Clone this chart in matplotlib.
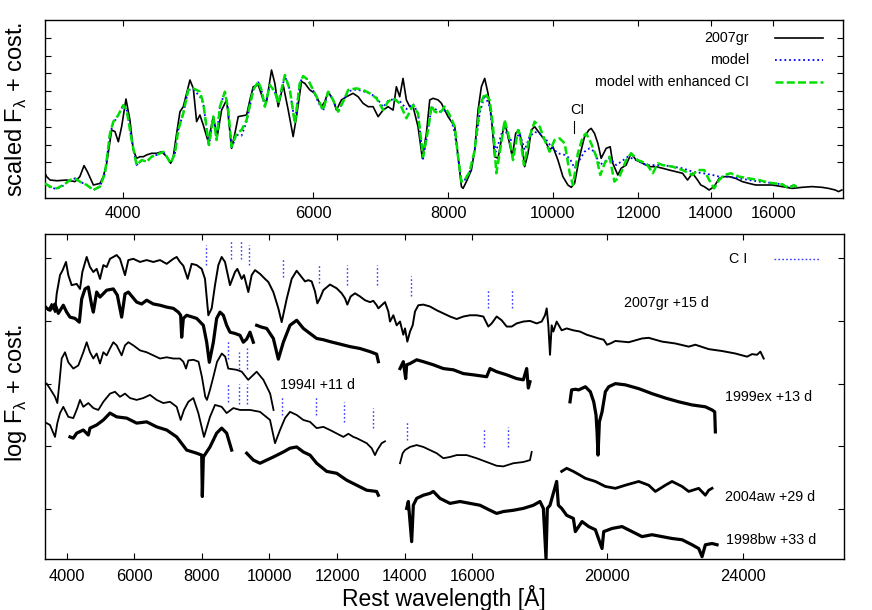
import numpy as np
import matplotlib
matplotlib.use("Agg")
import matplotlib.pyplot as plt
from matplotlib.ticker import NullLocator

plt.rcParams['font.family'] = ['Liberation Sans', 'DejaVu Sans']
plt.rcParams['mathtext.fontset'] = 'custom'
plt.rcParams['mathtext.rm'] = 'Liberation Sans'

nan = float('nan')

# ---------------- top panel data (scaled flux, arbitrary units) ----------------
obs_wl = [3385, 3397, 3422, 3472, 3545, 3608, 3646, 3679, 3705, 3753,
          3806, 3833, 3861, 3902, 3930, 3958, 3986, 4023, 4057, 4086,
          4115, 4145, 4175, 4204, 4249, 4295, 4341, 4388, 4425, 4450,
          4482, 4514, 4546, 4578, 4611, 4644, 4677, 4710, 4744, 4794,
          4846, 4887, 4933, 4986, 5039, 5075, 5111, 5147, 5203, 5240,
          5277, 5334, 5391, 5429, 5487, 5526, 5566, 5625, 5686, 5746,
          5787, 5849, 5891, 5954, 6018, 6060, 6104, 6147, 6191, 6257,
          6302, 6369, 6437, 6529, 6600, 6670, 6742, 6814, 6887, 6961,
          7035, 7111, 7161, 7212, 7263, 7315, 7367, 7420, 7499, 7569,
          7634, 7689, 7744, 7827, 7883, 7939, 7995, 8052, 8110, 8167,
          8226, 8255, 8314, 8403, 8463, 8523, 8584, 8645, 8706, 8768,
          8831, 8894, 8957, 9021, 9085, 9169, 9235, 9294, 9347, 9414,
          9481, 9548, 9616, 9719, 9823, 9928, 9999, 10106, 10214, 10323,
          10397, 10471, 10583, 10696, 10795, 10849, 10926, 11004, 11082, 11201,
          11297, 11361, 11482, 11564, 11688, 11813, 11939, 12109, 12282, 12457,
          12634, 12814, 12997, 13182, 13323, 13466, 13610, 13706, 13804, 13952,
          14101, 14252, 14404, 14558, 14765, 14976, 15189, 15406, 15625, 15960,
          16302, 16652, 17009, 17373, 17745, 17998, 18255, 18385, 18515]
obs_flux = [1.39, 1.20, 1.01, 0.97, 1.01, 0.92, 1.20, 1.82, 1.48, 0.73,
            0.82, 1.20, 1.95, 3.82, 3.73, 3.16, 4.01, 5.56, 4.38, 2.70,
            2.23, 2.32, 2.32, 2.42, 2.51, 2.51, 2.60, 2.32, 1.95, 2.32,
            3.63, 4.85, 5.13, 5.88, 6.63, 6.16, 4.29, 4.66, 4.10, 3.16,
            4.57, 3.45, 4.94, 5.51, 2.79, 3.63, 4.57, 4.61, 4.66, 5.51,
            6.25, 6.35, 5.51, 5.41, 7.19, 6.44, 5.13, 6.35, 4.94, 3.45,
            4.57, 6.54, 6.44, 6.07, 5.88, 5.51, 5.13, 5.41, 5.97, 5.51,
            4.94, 5.51, 5.69, 5.88, 5.69, 5.32, 5.13, 5.13, 4.57, 4.94,
            5.13, 4.94, 6.25, 5.69, 6.72, 5.51, 5.13, 5.13, 4.01, 2.23,
            3.63, 5.51, 5.60, 5.51, 5.32, 4.94, 4.57, 4.29, 4.01, 2.32,
            0.64, 0.54, 0.92, 1.57, 2.70, 4.94, 6.25, 6.72, 5.88, 4.57,
            2.32, 2.23, 3.26, 4.29, 3.45, 2.32, 3.63, 3.82, 3.26, 1.76,
            2.51, 3.82, 4.01, 3.63, 3.26, 2.70, 2.88, 2.13, 1.20, 0.73,
            0.60, 0.82, 2.32, 3.45, 3.82, 3.91, 3.63, 3.07, 2.23, 2.79,
            2.88, 1.95, 1.29, 1.67, 1.85, 2.51, 2.13, 1.95, 1.76, 1.76,
            1.67, 1.57, 1.48, 1.39, 1.01, 1.39, 1.01, 0.73, 0.64, 0.45,
            0.64, 1.10, 1.20, 1.20, 1.10, 0.92, 0.82, 0.73, 0.73, 0.73,
            0.64, 0.54, 0.60, 0.64, 0.60, 0.54, 0.45, 0.36, 0.45]

ci_wl = [3385, 3422, 3471, 3520, 3571, 3608, 3646, 3700, 3753, 3806,
         3847, 3888, 3916, 3958, 4000, 4029, 4072, 4115, 4160, 4204,
         4249, 4295, 4356, 4388, 4425, 4466, 4497, 4546, 4594, 4644,
         4710, 4744, 4801, 4846, 4880, 4915, 4968, 5003, 5039, 5093,
         5147, 5203, 5277, 5334, 5371, 5410, 5468, 5526, 5566, 5646,
         5706, 5767, 5828, 5870, 5933, 5996, 6060, 6126, 6191, 6257,
         6325, 6392, 6461, 6576, 6670, 6766, 6863, 6961, 7035, 7111,
         7212, 7316, 7420, 7499, 7580, 7661, 7720, 7771, 7855, 7939,
         8024, 8110, 8167, 8226, 8284, 8373, 8463, 8553, 8645, 8737,
         8800, 8862, 8925, 9021, 9118, 9183, 9281, 9314, 9400, 9514,
         9616, 9719, 9823, 9928, 10034, 10142, 10252, 10363, 10436, 10545,
         10657, 10733, 10849, 10968, 11061, 11165, 11281, 11399, 11523, 11688,
         11813, 11980, 12197, 12373, 12507, 12634, 12906, 13182, 13466, 13610,
         13804, 13952, 14101, 14252, 14404, 14609, 14871, 15189, 15515, 15848,
         16302, 16534, 16711, 16889]
ci_flux = [0.82, 0.64, 0.54, 0.73, 1.01, 1.10, 0.92, 0.73, 0.45, 0.64,
           1.39, 3.63, 4.29, 4.66, 5.22, 4.94, 3.26, 1.85, 2.13, 2.04,
           2.32, 2.42, 2.60, 2.32, 1.95, 2.51, 3.82, 4.76, 6.07, 6.16,
           5.97, 5.32, 2.98, 4.57, 3.26, 5.13, 5.97, 4.94, 2.88, 3.63,
           3.82, 4.38, 6.07, 6.54, 6.07, 5.13, 6.35, 5.97, 5.32, 6.91,
           6.07, 4.19, 6.44, 6.85, 6.63, 6.07, 5.51, 4.94, 5.97, 5.51,
           4.85, 5.41, 6.07, 6.16, 6.07, 5.88, 5.60, 4.94, 5.41, 5.60,
           5.32, 4.48, 5.22, 4.76, 2.32, 3.82, 5.20, 4.85, 4.76, 5.13,
           4.66, 4.01, 2.32, 0.92, 1.01, 1.48, 2.70, 5.13, 5.88, 5.51,
           4.01, 1.39, 2.51, 4.38, 3.26, 2.13, 3.82, 3.63, 1.85, 3.45,
           4.29, 4.01, 3.26, 2.60, 3.26, 3.35, 3.07, 1.39, 0.73, 2.51,
           3.45, 3.63, 3.07, 2.32, 1.29, 1.95, 2.32, 0.92, 1.20, 2.13,
           2.51, 2.13, 1.95, 1.39, 1.95, 1.85, 1.76, 1.57, 1.29, 1.57,
           1.57, 1.01, 0.54, 1.01, 1.29, 1.39, 1.20, 1.10, 1.01, 0.86,
           0.77, 0.54, 0.73, 0.54]

model_wl = [3385, 3422, 3471, 3520, 3571, 3608, 3646, 3700, 3753, 3806,
            3847, 3888, 3916, 3958, 4000, 4029, 4072, 4115, 4160, 4204,
            4249, 4295, 4356, 4388, 4425, 4466, 4497, 4546, 4594, 4644,
            4710, 4744, 4801, 4846, 4880, 4915, 4968, 5003, 5039, 5093,
            5147, 5203, 5277, 5334, 5371, 5410, 5468, 5526, 5566, 5646,
            5706, 5767, 5828, 5870, 5933, 5996, 6060, 6126, 6191, 6257,
            6325, 6392, 6461, 6576, 6670, 6766, 6863, 6961, 7035, 7111,
            7212, 7316, 7420, 7499, 7580, 7661, 7720, 7855, 7967, 8052,
            8110, 8167, 8226, 8284, 8373, 8463, 8553, 8645, 8737, 8800,
            8850, 8925, 9002, 9118, 9216, 9314, 9414, 9514, 9616, 9719,
            9859, 9964, 10106, 10252, 10363, 10471, 10583, 10696, 10812, 10926,
            11045, 11165, 11281, 11444, 11564, 11732, 11939, 12197, 12507, 12634,
            12906, 13182, 13466, 13765, 14061, 14252, 14558, 14871, 15189, 15515,
            15848, 16302, 16534, 16711, 16889]
model_flux = [0.78, 0.60, 0.50, 0.70, 1.01, 1.10, 0.92, 0.73, 0.45, 0.64,
              1.39, 3.63, 4.20, 4.66, 5.22, 4.94, 3.26, 1.85, 2.13, 2.04,
              2.32, 2.42, 2.60, 2.32, 1.95, 2.51, 3.82, 4.76, 6.07, 6.10,
              5.70, 5.32, 2.90, 4.57, 3.26, 5.13, 5.97, 4.94, 2.80, 3.55,
              3.50, 4.30, 6.07, 6.50, 6.07, 5.13, 6.35, 5.97, 5.32, 6.85,
              6.07, 4.19, 6.44, 6.85, 6.63, 6.07, 5.40, 4.90, 5.97, 5.51,
              4.85, 5.41, 6.00, 6.10, 6.00, 5.88, 5.65, 5.10, 5.45, 5.55,
              5.45, 5.00, 5.30, 4.76, 2.20, 3.82, 5.10, 4.85, 4.94, 4.38,
              3.63, 2.32, 0.92, 1.01, 1.48, 2.70, 4.76, 5.79, 5.13, 3.63,
              2.60, 3.26, 4.01, 3.26, 3.26, 3.63, 2.70, 3.45, 3.71, 3.63,
              3.26, 2.88, 2.51, 2.42, 2.23, 1.67, 2.13, 2.60, 2.79, 2.60,
              1.85, 2.04, 2.23, 1.85, 2.04, 2.32, 2.13, 1.85, 1.85, 1.85,
              1.76, 1.67, 1.48, 1.39, 1.29, 1.20, 1.20, 1.10, 1.01, 0.92,
              0.86, 0.77, 0.60, 0.73, 0.54]

# ---------------- bottom panel data (log flux + const) ----------------
gr07_wl = [3358, 3457, 3555, 3654, 3703, 3802, 3881, 3979, 4048, 4147,
           4295, 4394, 4463, 4591, 4689, 4788, 4887, 4985, 5084, 5183,
           5281, 5478, 5577, 5725, 5824, 5972, 6169, 6366, 6563, 6761,
           6958, 7155, 7254, 7352, 7451, 7579, 7697, 7846, 7994, 8092,
           8191, 8290, 8388, 8487, 8585, 8684, 8832, 8980, 9049, 9177,
           9246, 9374, 9473, 9572, 9720, 9868, 9967, 10114, 10262, 10361,
           10509, 10657, 10804, 11051, 11149, 11248, 11347, 11416, 11495, 11593,
           11790, 11988, 12136, 12234, 12303, 12402, 12530, 12678, 12826, 12974,
           13073, 13171, 13221, 13319, 13418, 13517, 13566, 13665, 13763, 13862,
           13960, 14010, 14079, 14158, 14237, 14306, 14404, 14552, 14749, 14947,
           15144, 15341, 15539, 15736, 15933, 16130, 16328, 16475, 16574, 16722,
           16870, 17018, 17166, 17314, 17511, 17708, 17906, 18054, 18152, 18202,
           18251, 18300, 18350, 18399, 18497, 18645, 18793, 18991, 19188, 19385,
           19741, 19889, 19988, 20086, 20234, 20629, 21023, 21220, 21615, 22010,
           22404, 22601, 22996, 23390, 23785, 24130, 24278, 24426, 24525, 24623]
gr07_flux = [3.25, 3.17, 3.27, 3.14, 3.43, 3.73, 3.81, 3.94, 3.73, 3.57,
             3.59, 3.51, 3.78, 4.02, 3.86, 3.78, 3.83, 3.67, 3.89, 3.86,
             3.99, 4.05, 3.99, 3.73, 3.97, 3.99, 3.94, 3.97, 3.94, 3.97,
             3.91, 3.99, 4.02, 3.94, 3.88, 3.67, 3.91, 3.89, 3.83, 3.67,
             3.09, 3.20, 3.57, 3.89, 4.02, 3.94, 3.57, 3.78, 3.83, 3.67,
             3.73, 3.46, 3.73, 3.81, 3.75, 3.67, 3.62, 3.46, 3.20, 2.98,
             3.35, 3.67, 3.80, 3.63, 3.65, 3.63, 3.47, 3.28, 3.36, 3.49,
             3.58, 3.52, 3.44, 3.36, 3.26, 3.39, 3.44, 3.39, 3.33, 3.30,
             3.32, 3.25, 3.20, 3.25, 3.30, 3.15, 2.99, 3.09, 2.93, 2.99,
             2.78, 2.88, 2.67, 2.83, 2.93, 3.15, 3.25, 3.26, 3.23, 3.17,
             3.12, 3.07, 3.03, 3.07, 3.09, 3.09, 3.07, 2.91, 2.96, 3.07,
             3.01, 2.91, 2.91, 2.96, 2.99, 3.00, 2.96, 2.99, 3.09, 3.20,
             2.93, 2.46, 2.93, 2.83, 2.99, 2.85, 2.88, 2.85, 2.83, 2.78,
             2.72, 2.70, 2.62, 2.64, 2.68, 2.66, 2.72, 2.73, 2.67, 2.64,
             2.59, 2.62, 2.55, 2.52, 2.48, 2.43, 2.47, 2.46, 2.51, 2.40]

ex99_wl = [3358, 3506, 3654, 3752, 3900, 3999, 4098, 4246, 4374, 4443,
           4542, 4640, 4739, 4788, 4887, 4985, 5183, 5380, 5498, 5626,
           5725, 5824, 6070, 6218, 6366, 6563, 6761, 6958, 7155, 7303,
           7372, 7402, 7451, 7550, 7846, 8043, 8142, 8220, 8339, 8437,
           8536, 8635, 8733, 8832, 8980, 9128, 9226, 9325, 9424, 9522,
           9570, 9621, 9769, 9917, 10114, 10262, 10410, 10607, 10805, 11002,
           11199, 11396, 11593, 11790, 12086, 12382, 12678, 12974, 13171, 13221,
           13500, 13862, 13960, 14030, 14059, 14158, 14355, 14552, 14848, 15144,
           15440, 15736, 16032, 16426, 16525, 16722, 17018, 17314, 17511, 17610,
           17659, 17708, 18300, 18892, 18940, 19050, 19149, 19347, 19494, 19593,
           19662, 19692, 19721, 19761, 19840, 19889, 19938, 20037, 20234, 20530,
           20925, 21319, 21714, 22108, 22503, 22897, 23094, 23173, 23193]
ex99_flux = [3.22, 3.17, 3.27, 3.12, 3.25, 3.14, 3.06, 3.04, 2.98, 3.35,
             3.51, 3.54, 3.25, 3.14, 3.46, 3.38, 3.49, 3.51, 3.41, 3.06,
             3.43, 3.46, 3.30, 3.27, 3.33, 3.27, 3.25, 3.22, 3.20, 3.14,
             3.09, 2.74, 3.04, 3.09, 3.04, 2.93, 2.66, 2.34, 2.66, 3.04,
             3.14, 3.09, 2.93, 2.82, 2.80, 2.77, 2.66, 2.71, 2.82, 2.66,
             nan, 2.93, 2.90, 2.88, 2.72, 2.39, 2.66, 2.93, 3.01, 2.88,
             2.80, 2.72, 2.70, 2.67, 2.63, 2.59, 2.56, 2.51, 2.47, 2.35,
             nan, 2.24, 2.35, 2.08, 2.30, 2.32, 2.38, 2.35, 2.30, 2.24,
             2.22, 2.16, 2.14, 2.11, 2.24, 2.19, 2.14, 2.08, 2.06, 2.24,
             1.93, 2.03, nan, 1.71, 1.90, 1.91, 1.90, 1.95, 1.87, 1.71,
             1.50, 1.23, 0.86, 1.39, 1.55, 1.71, 1.87, 1.95, 2.00, 1.98,
             1.92, 1.84, 1.77, 1.71, 1.66, 1.63, 1.58, 1.55, 1.23]

i94_wl = [3407, 3506, 3654, 3723, 3782, 3851, 3950, 4048, 4196, 4344,
          4492, 4591, 4689, 4788, 4887, 4985, 5084, 5183, 5281, 5380,
          5478, 5626, 5725, 5824, 5972, 6169, 6366, 6563, 6761, 6958,
          7155, 7352, 7450, 7530, 7600, 7750, 7900, 8000, 8100, 8150,
          8240, 8340, 8450, 8590, 8690, 8780, 9030, 9180, 9370, 9620,
          9820, 10020, 10120]
i94_flux = [2.00, 1.92, 1.79, 1.69, 2.00, 2.40, 2.50, 2.34, 2.24, 2.29,
            2.50, 2.66, 2.50, 2.40, 2.48, 2.32, 2.50, 2.45, 2.56, 2.66,
            2.61, 2.45, 2.61, 2.66, 2.61, 2.53, 2.50, 2.45, 2.40, 2.42,
            2.40, 2.40, 2.35, 2.24, 2.37, 2.38, 2.35, 2.11, 1.79, 1.74,
            1.90, 2.11, 2.35, 2.48, 2.43, 2.24, 2.22, 2.19, 2.06, 2.19,
            2.06, 1.84, 1.58]

aw04_wl = [3407, 3506, 3654, 3723, 3802, 3900, 4048, 4196, 4315, 4394,
           4492, 4640, 4788, 4936, 5084, 5281, 5429, 5577, 5725, 5873,
           6070, 6268, 6465, 6662, 6859, 7057, 7254, 7372, 7471, 7599,
           7747, 7895, 8063, 8240, 8388, 8585, 8733, 8930, 9128, 9424,
           9720, 10016, 10164, 10312, 10460, 10607, 10805, 11002, 11199, 11396,
           11594, 11791, 12186, 12334, 12481, 12580, 12875, 13023, 13122, 13191,
           13319, 13418, 13640, 13862, 13941, 14010, 14158, 14355, 14552, 14749,
           14947, 15144, 15341, 15539, 15835, 16130, 16426, 16722, 16919, 17215,
           17511, 17708, 17758]
aw04_flux = [1.37, 1.34, 1.15, 1.37, 1.53, 1.63, 1.47, 1.45, 1.61, 1.74,
             1.63, 1.69, 1.61, 1.58, 1.71, 1.84, 1.87, 1.79, 1.84, 1.77,
             1.74, 1.77, 1.82, 1.74, 1.69, 1.71, 1.63, 1.42, 1.58, 1.71,
             1.77, 1.53, 1.15, 1.47, 1.66, 1.63, 1.53, 1.61, 1.58, 1.58,
             1.55, 1.42, 1.05, 1.26, 1.45, 1.55, 1.50, 1.42, 1.39, 1.29,
             1.31, 1.26, 1.15, 1.20, 1.15, 1.13, 1.05, 0.97, 0.86, 0.94,
             1.05, 1.08, nan, 0.73, 0.89, 0.94, 0.99, 1.02, 0.99, 0.94,
             0.89, 0.81, 0.83, 0.86, 0.86, 0.81, 0.75, 0.69, 0.68, 0.73,
             0.75, 0.78, 0.91]

aw04k_wl = [18645, 18793, 18991, 19188, 19347, 19642, 19938, 20234, 20530, 20925,
            21220, 21418, 21714, 21911, 22207, 22404, 22700, 22897, 22996, 23094]
aw04k_flux = [0.60, 0.65, 0.60, 0.54, 0.49, 0.44, 0.36, 0.33, 0.38, 0.44,
              0.38, 0.28, 0.38, 0.44, 0.36, 0.28, 0.33, 0.22, 0.30, 0.33]

bw98_wl = [4098, 4196, 4295, 4492, 4640, 4689, 4887, 5084, 5281, 5478,
           5774, 6070, 6366, 6662, 6958, 7254, 7550, 7846, 7994, 8013,
           8043, 8240, 8437, 8585, 8733, 8881, 9100, 9326, 9523, 9720,
           9917, 10114, 10410, 10607, 10805, 11002, 11199, 11396, 11693, 11989,
           12284, 12580, 12875, 13171, 13221, 13600, 14059, 14108, 14207, 14256,
           14355, 14552, 14749, 14848, 15045, 15341, 15637, 15933, 16229, 16525,
           16722, 16919, 17215, 17511, 17807, 18004, 18103, 18182, 18221, 18300,
           18497, 18547, 18645, 18793, 18991, 19050, 19248, 19445, 19642, 19840,
           19889, 20136, 20432, 20728, 21023, 21319, 21615, 21911, 22207, 22503,
           22700, 22799, 22897, 23094, 23242]
bw98_flux = [1.15, 1.13, 1.21, 1.26, 1.18, 1.29, 1.34, 1.42, 1.53, 1.47,
             1.45, 1.37, 1.39, 1.31, 1.26, 1.15, 0.94, 0.89, 0.86, 0.20,
             0.83, 0.99, 1.21, 1.29, 1.21, 0.94, nan, 0.89, 0.78, 0.73,
             0.78, 0.83, 0.91, 0.97, 0.99, 0.91, 0.86, 0.73, 0.60, 0.57,
             0.46, 0.38, 0.30, 0.28, 0.22, nan, 0.01, 0.12, -0.52, 0.06,
             0.17, 0.22, 0.25, 0.28, 0.17, 0.09, 0.12, 0.09, 0.06, -0.02,
             -0.07, -0.04, -0.02, 0.01, 0.06, 0.12, 0.01, -0.79, 0.01, 0.06,
             0.44, 0.06, 0.01, -0.10, -0.15, -0.36, -0.20, -0.28, -0.33, -0.63,
             -0.36, -0.31, -0.28, -0.36, -0.44, -0.41, -0.44, -0.47, -0.49, -0.57,
             -0.63, -0.76, -0.57, -0.55, -0.57]

# C I line markers (wavelength, lower and upper flux)
ciA_wl = [8112, 8852, 9157, 9394, 10410, 11465, 12303, 13171, 14177, 16475, 17166]
ciA_lo = [3.89, 3.99, 3.99, 3.89, 3.70, 3.60, 3.57, 3.57, 3.39, 3.20, 3.20]
ciA_hi = [4.21, 4.28, 4.28, 4.21, 3.99, 3.89, 3.89, 3.89, 3.71, 3.49, 3.49]
ciB_wl = [8783, 9109, 9326]
ciB_lo = [2.40, 2.24, 2.24]
ciB_hi = [2.70, 2.51, 2.56]
ciC_wl = [8783, 9109, 9326, 10361, 11377, 12205, 13073, 14079, 16357, 17048]
ciC_lo = [1.71, 1.68, 1.68, 1.50, 1.50, 1.39, 1.29, 1.10, 0.99, 0.99]
ciC_hi = [2.00, 2.00, 2.00, 1.79, 1.79, 1.71, 1.61, 1.39, 1.29, 1.31]

labels_txt = ["2007gr +15 d", "1994I +11 d", "1999ex +13 d", "2004aw +29 d", "1998bw +33 d"]
labels_wl = [20490, 10312, 23479, 23479, 23509]
labels_y = [3.29, 1.98, 1.79, 0.19, -0.49]

top_ticks = [4000, 6000, 8000, 10000, 12000, 14000, 16000]
bot_ticks = [4000, 6000, 8000, 10000, 12000, 14000, 16000, 20000, 24000]

# ---------------- figure ----------------
fig = plt.figure(figsize=(8.72, 6.10), dpi=100)
ax1 = fig.add_axes([45/872, 1-198/610, 798/872, 178/610])
ax2 = fig.add_axes([45/872, 51/610, 798.7/872, 325/610])

GREEN = '#00e000'
BLUE = '#0000ff'

ax1.plot(obs_wl, obs_flux, color='black', lw=1.2, zorder=3)
ax1.plot(model_wl, model_flux, color=BLUE, lw=1.3, linestyle=(0, (1, 1.6)), zorder=4)
ax1.plot(ci_wl, ci_flux, color=GREEN, lw=1.8, linestyle=(0, (3.2, 1.3)), zorder=5)
ax1.set_xscale('log')
ax1.set_xlim(3385, 18560)
ax1.set_ylim(0, 10)
ax1.set_xticks(top_ticks)
ax1.set_xticklabels([str(t) for t in top_ticks])
ax1.xaxis.set_minor_locator(NullLocator())
ax1.set_yticks(range(2, 10))
ax1.tick_params(axis='both', direction='in', length=4.5, width=0.8, top=True, right=True,
                labelleft=False, labelsize=11.8, pad=6)
ax1.set_ylabel(r'scaled F$_{\mathregular{λ}}$ + cost.', fontsize=17)
ax1.yaxis.set_label_coords(-0.020, 0.5)

# CI annotation in top panel
ax1.plot([10458, 10458], [3.65, 4.33], color='black', lw=0.8)
ax1.text(10525, 4.94, 'CI', ha='center', va='center', fontsize=10.3)

# legend (top)
leg_names = ['2007gr', 'model', 'model with enhanced CI']
leg_y = [0.899, 0.775, 0.652]
leg_styles = [dict(color='black', lw=1.2),
              dict(color=BLUE, lw=1.3, linestyle=(0, (1, 1.6))),
              dict(color=GREEN, lw=1.8, linestyle=(0, (3.2, 1.3)))]
for name, yy, st in zip(leg_names, leg_y, leg_styles):
    ax1.text(0.882, yy, name, transform=ax1.transAxes, ha='right', va='center', fontsize=10.3)
    ax1.plot([0.915, 0.975], [yy, yy], transform=ax1.transAxes, **st)

# bottom panel
NOISY = 2.3
ax2.plot(gr07_wl, gr07_flux, color='black', lw=1.4)
ax2.plot(ex99_wl, ex99_flux, color='black', lw=NOISY)
ax2.plot(i94_wl, i94_flux, color='black', lw=1.3)
ax2.plot(aw04_wl, aw04_flux, color='black', lw=1.3)
ax2.plot(aw04k_wl, aw04k_flux, color='black', lw=2.0)
ax2.plot(bw98_wl, bw98_flux, color='black', lw=NOISY)

ci_style = dict(colors='#3a3aff', linestyles=[(0, (1.2, 1.6))], lw=1.0)
ax2.vlines(ciA_wl, ciA_lo, ciA_hi, **ci_style)
ax2.vlines(ciB_wl, ciB_lo, ciB_hi, **ci_style)
ax2.vlines(ciC_wl, ciC_lo, ciC_hi, **ci_style)

for t, xw, yv in zip(labels_txt, labels_wl, labels_y):
    ax2.text(xw, yv, t, ha='left', va='center', fontsize=10.3)

ax2.text(0.879, 0.923, 'C I', transform=ax2.transAxes, ha='right', va='center', fontsize=10.3)
ax2.plot([0.913, 0.970], [0.923, 0.923], transform=ax2.transAxes, color='#3a3aff',
         lw=1.0, linestyle=(0, (1.2, 1.6)))

ax2.set_xlim(3358, 26990)
ax2.set_ylim(-0.797, 4.386)
ax2.set_xticks(bot_ticks)
ax2.set_xticklabels([str(t) for t in bot_ticks])
ax2.xaxis.set_minor_locator(NullLocator())
ax2.set_yticks(range(0, 5))
ax2.tick_params(axis='both', direction='in', length=4.5, width=0.8, top=True, right=True,
                labelleft=False, labelsize=11.8, pad=7)
ax2.set_ylabel(r'log F$_{\mathregular{λ}}$ + cost.', fontsize=17)
ax2.yaxis.set_label_coords(-0.020, 0.51)
ax2.set_xlabel('Rest wavelength [Å]', fontsize=16.5)
ax2.xaxis.set_label_coords(0.5, -0.081)

for ax in (ax1, ax2):
    for sp in ax.spines.values():
        sp.set_linewidth(1.0)

fig.savefig('out.png', dpi=100)
